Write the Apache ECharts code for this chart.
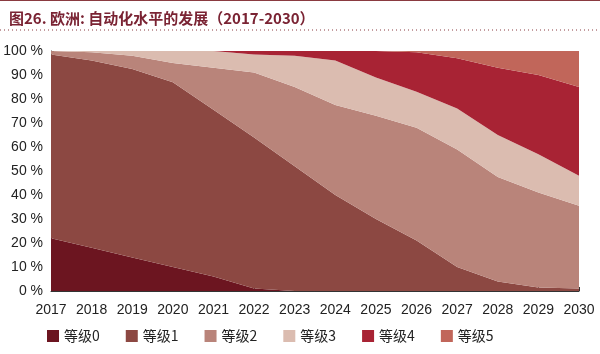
<!DOCTYPE html>
<html>
<head>
<meta charset="utf-8">
<script src="https://cdn.jsdelivr.net/npm/echarts@6/dist/echarts.min.js"></script>
<style>
html, body { margin: 0; padding: 0; background: #fff; }
#main { width: 600px; height: 354px; }
</style>
</head>
<body>
<div id="main"></div>
<script>
var years = ['2017', '2018', '2019', '2020', '2021', '2022', '2023', '2024', '2025', '2026', '2027', '2028', '2029', '2030'];
var names = ['等级0', '等级1', '等级2', '等级3', '等级4', '等级5'];

// share of each level, %
var level0 = [22, 18, 14, 10, 6, 1, 0, 0, 0, 0, 0, 0, 0, 0];
var level1 = [76.5, 78, 78.5, 77, 69.5, 63, 52, 40, 30, 21, 10, 4, 1.5, 1];
var level2 = [1.5, 3.5, 5.5, 8, 17.5, 27, 33, 37.5, 43, 47, 49, 43.5, 39.5, 34.5];
var level3 = [0, 0.5, 2, 5, 7, 7.5, 13, 18.5, 16, 15, 17, 17.5, 16, 12.5];
var level4 = [0, 0, 0, 0, 0, 1.5, 2, 4, 11, 16.5, 21, 28, 33, 37];
var level5 = [0, 0, 0, 0, 0, 0, 0, 0, 0, 0.5, 3, 7, 10, 15];

var colors = ['#6c1520', '#8c4842', '#b9847a', '#dbbcb0', '#a82334', '#c1665a'];
var allData = [level0, level1, level2, level3, level4, level5];

var chartDom = document.getElementById('main');
var myChart = echarts.init(chartDom);
var option;

var series = names.map(function (n, i) {
    return {
        name: n,
        type: 'line',
        stack: 'total',
        symbol: 'none',
        lineStyle: { width: 0 },
        areaStyle: { color: colors[i], opacity: 1 },
        itemStyle: { color: colors[i] },
        data: allData[i]
    };
});

option = {
    animation: false,
    textStyle: { fontFamily: 'Liberation Sans, Noto Sans CJK SC, sans-serif' },
    title: {
        text: '图26. 欧洲: 自动化水平的发展（2017-2030）',
        left: 4,
        top: 6,
        textStyle: {
            color: '#7a2333',
            fontSize: 15,
            fontWeight: 'bold',
            fontFamily: 'Noto Sans CJK SC'
        }
    },
    graphic: [
        {
            type: 'line',
            shape: { x1: 0, y1: 0.5, x2: 600, y2: 0.5 },
            style: { stroke: '#8a3a40', lineWidth: 1 }
        },
        {
            type: 'line',
            shape: { x1: 0, y1: 30, x2: 600, y2: 30 },
            style: { stroke: '#8a3a40', lineWidth: 1, lineDash: [1, 3] }
        }
    ],
    legend: {
        data: names,
        left: 42,
        bottom: 6,
        itemWidth: 12,
        itemHeight: 12,
        itemGap: 26,
        icon: 'rect',
        textStyle: { fontSize: 14, color: '#222', fontFamily: 'Noto Sans CJK SC' }
    },
    grid: {
        left: 51,
        right: 21,
        top: 51,
        bottom: 63
    },
    xAxis: {
        type: 'category',
        boundaryGap: false,
        data: years,
        axisLine: { lineStyle: { color: '#333' } },
        axisTick: { inside: true, length: 4, lineStyle: { color: '#333' } },
        axisLabel: { color: '#222', fontSize: 14, margin: 12 }
    },
    yAxis: {
        type: 'value',
        min: 0,
        max: 100,
        interval: 10,
        axisLine: { show: true, lineStyle: { color: '#333' } },
        axisTick: { show: true, inside: true, length: 3, lineStyle: { color: '#333' } },
        splitLine: { show: false },
        axisLabel: { color: '#222', fontSize: 14, margin: 8, formatter: '{value} %' }
    },
    series: series
};

option && myChart.setOption(option);
</script>
</body>
</html>
